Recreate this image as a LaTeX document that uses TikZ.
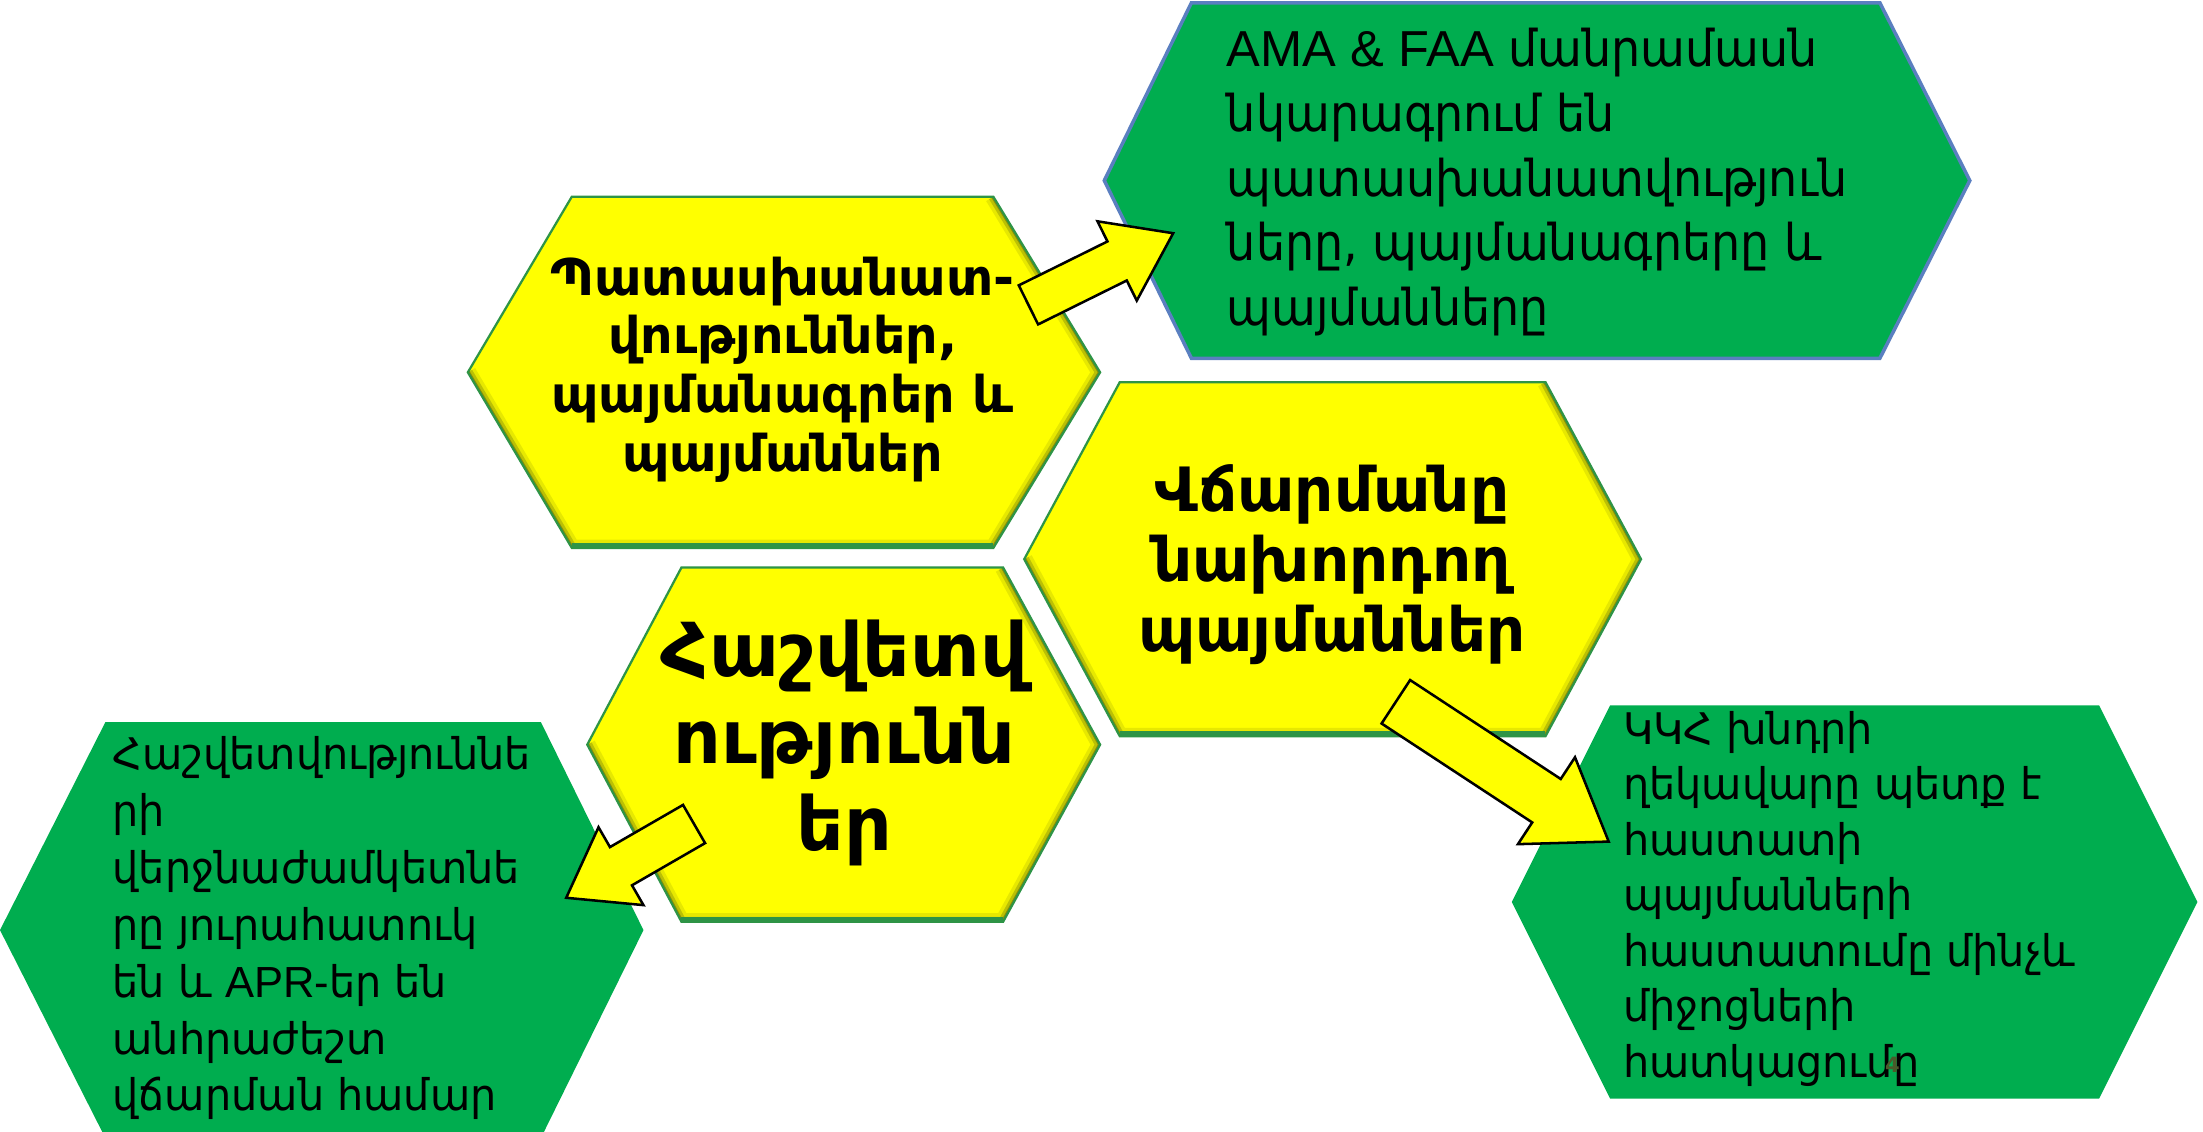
\documentclass[tikz,border=0pt]{standalone}
\usepackage{fontspec}
\setmainfont{DejaVu Sans}
\newfontfamily\latf{Liberation Sans}
\newfontfamily\armA[FakeStretch=0.91]{DejaVu Sans}
\newfontfamily\armB[FakeStretch=0.95]{DejaVu Sans}
\usetikzlibrary{calc}
\definecolor{hexgreen}{HTML}{00AD4F}
\definecolor{hexyellow}{HTML}{FFFF00}
\definecolor{edgegreen}{HTML}{2E9446}
\definecolor{edgeblue}{HTML}{5A7FC0}
\definecolor{shadeol}{HTML}{3A4A10}
\definecolor{pagenum}{HTML}{4A5A2A}
\newcommand{\hexp}[6]{(#1,#5) -- (#2,#5) -- (#4,{(#5+#6)/2}) -- (#2,#6) -- (#1,#6) -- (#3,{(#5+#6)/2}) -- cycle}
\newcommand{\hexshade}[6]{(#2,#5) -- (#4,{(#5+#6)/2}) -- (#2,#6) -- (#1,#6) -- (#3,{(#5+#6)/2})}
\newcommand{\yhex}[6]{%
  \fill[hexyellow] \hexp{#1}{#2}{#3}{#4}{#5}{#6};
  \begin{scope}
    \clip \hexp{#1}{#2}{#3}{#4}{#5}{#6};
    \draw[line width=12pt, color=shadeol, opacity=0.12, line join=miter] \hexshade{#1}{#2}{#3}{#4}{#5}{#6};
    \draw[line width=7pt, color=shadeol, opacity=0.25, line join=miter] \hexshade{#1}{#2}{#3}{#4}{#5}{#6};
    \draw[line width=3pt, color=shadeol, opacity=0.4, line join=miter] \hexshade{#1}{#2}{#3}{#4}{#5}{#6};
    \draw[line width=7pt, color=edgegreen] (#1,#6) -- (#2,#6);
  \end{scope}
  \draw[yedge] \hexp{#1}{#2}{#3}{#4}{#5}{#6};}
\newcommand{\blockarr}[5]{%
  \pgfpointdiff{\pgfpointanchor{#1}{center}}{\pgfpointanchor{#2}{center}}%
  \pgfgetlastxy{\bax}{\bay}%
  \pgfmathsetmacro{\balen}{veclen(\bax,\bay)}%
  \pgfmathsetmacro{\baang}{atan2(\bay,\bax)}%
  \pgfmathsetmacro{\bahb}{\balen-#5}%
  \draw[blockarrow, shift={(#1)}, rotate=\baang]
    (0pt,-#3pt) -- (\bahb pt,-#3pt) -- (\bahb pt,-#4pt) -- (\balen pt,0pt)
    -- (\bahb pt,#4pt) -- (\bahb pt,#3pt) -- (0pt,#3pt) -- cycle;}
\tikzset{
  yedge/.style={draw=edgegreen, line width=1.6pt, line join=miter},
  ghex/.style={fill=hexgreen},
  blockarrow/.style={fill=hexyellow, draw=black, line width=1.8pt, line join=miter},
  gtext/.style={inner sep=0pt, align=left, anchor=north west, text=black},
  ytext/.style={inner sep=0pt, align=center, text=black, font=\bfseries},
}
\begin{document}
\begin{tikzpicture}[x=1pt, y=-1pt]
\useasboundingbox (0,0) rectangle (1568,805);
\fill[white] (0,0) rectangle (1568,805);
% green hexagons
\draw[ghex, draw=edgeblue, line width=2.5pt] \hexp{848}{1338}{786}{1402}{2}{255};
\fill[ghex] \hexp{75}{385}{0}{458}{514}{810};
\fill[ghex] \hexp{1146}{1494}{1076}{1564}{502}{782};
% yellow hexagons
\yhex{407}{707}{333}{783}{140}{390}
\yhex{797}{1100}{729}{1168}{272}{524}
\yhex{485}{714}{418}{783}{404}{656}
% texts
\node[ytext, font=\bfseries\fontsize{36}{41.7}\selectfont] (resp) at (557,263)
  {Պատասխանատ-\\վություններ,\\պայմանագրեր և\\պայմաններ};
\node[ytext, font=\bfseries\fontsize{43.5}{50}\selectfont] (pre) at (948,402)
  {Վճարմանը\\նախորդող\\պայմաններ};
\node[ytext, font=\bfseries\fontsize{53}{62}\selectfont] (rep) at (601,529)
  {Հաշվետվ\\ությունն\\եր};
\node[gtext, font=\armA\fontsize{36}{46}\selectfont] (ama) at (873,20)
  {{\latf AMA \& FAA} մանրամասն\\նկարագրում են\\պատասխանատվություն\\ները, պայմանագրերը և\\պայմանները};
\node[gtext, font=\armB\fontsize{31}{40.5}\selectfont] (dead) at (80,524)
  {Հաշվետվություննե\\րի\\վերջնաժամկետնե\\րը յուրահատուկ\\են և {\latf APR-}եր են\\անհրաժեշտ\\վճարման համար};
\node[gtext, font=\armB\fontsize{31}{39.5}\selectfont] (kkh) at (1155,506)
  {ԿԿՀ խնդրի\\ղեկավարը պետք է\\հաստատի\\պայմանների\\հաստատումը մինչև\\միջոցների\\հատկացումը};
\node[text=pagenum, font=\bfseries\fontsize{15}{16}\selectfont, inner sep=0pt] (pnum) at (1347,758) {4};
% arrows
\coordinate (a1s) at (732,217);
\coordinate (a1e) at (835,166);
\coordinate (a2s) at (993.5,499.5);
\coordinate (a2e) at (1145,599);
\coordinate (a3s) at (494,586.5);
\coordinate (a3e) at (403,639);
\blockarr{a1s}{a1e}{15.5}{31.5}{44.5}
\blockarr{a2s}{a2e}{18.5}{37}{53}
\blockarr{a3s}{a3e}{15.7}{32}{45}
\end{tikzpicture}
\end{document}
